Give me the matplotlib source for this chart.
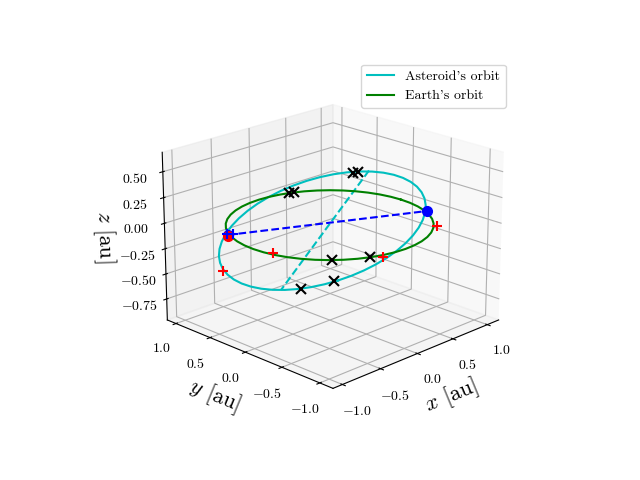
import numpy as np
import matplotlib
matplotlib.use("Agg")
import matplotlib.pyplot as plt

plt.rcParams['font.family'] = ['cmr10', 'DejaVu Serif']
plt.rcParams['mathtext.fontset'] = 'cm'
plt.rcParams['axes.formatter.use_mathtext'] = True
plt.rcParams['axes.unicode_minus'] = True

fig = plt.figure(figsize=(6.4, 4.8), dpi=100)
ax = fig.add_subplot(projection='3d')
ax.view_init(elev=20, azim=-135)
ax.set_xlim(-1.12, 1.17)
ax.set_ylim(-1.17, 1.13)
ax.set_zlim(-0.962, 0.686)
ax.set_xticks([-1.0, -0.5, 0.0, 0.5, 1.0])
ax.set_yticks([-1.0, -0.5, 0.0, 0.5, 1.0])
ax.set_zticks([-0.75, -0.5, -0.25, 0.0, 0.25, 0.5])
ax.set_xlabel(r'$x$ [au]', fontsize=16)
ax.set_ylabel(r'$y$ [au]', fontsize=16)
ax.set_zlabel(r'$z$ [au]', fontsize=16)
fig.canvas.draw()
M = ax.get_proj()
inv = ax.transData.inverted()

def rows(px, py):
    u, v = inv.transform((px, 480 - py))
    return [M[0] - u * M[3], M[1] - v * M[3]]

def solve(px, py, plane):
    r = rows(px, py)
    A = np.array([r[0][:3], r[1][:3], plane[:3]])
    b = np.array([-r[0][3], -r[1][3], plane[3]])
    return np.linalg.solve(A, b)

Z0 = np.array([0, 0, 1, 0.0])
n1 = solve(227.5, 235.0, Z0)
n2 = solve(427, 211, Z0)
top = solve(369, 170.5, np.array([0, 0, 1, 0.62]))
nrm = np.cross(n2 - n1, top - n1)
P = np.array([*nrm, nrm @ n1])

pts = np.array([(510,65),(570,68),(620,90),(660,125),(680,165),(678,190),(650,240),(600,290),(550,330),(500,358),
 (450,380),(400,395),(350,408),(300,418),(245,420),(190,420),(130,400),(85,370),(60,335),(58,310),(68,270),(85,240),
 (120,195),(170,160),(230,130),(270,115),(330,90),(400,72),(460,66)], float) / 3 + [200, 150]
mx = pts.mean(0); s = 100.0
X = (pts - mx) / s
D = np.c_[X[:,0]**2, X[:,0]*X[:,1], X[:,1]**2, X[:,0], X[:,1], np.ones(len(X))]
co = np.linalg.svd(D)[2][-1]
A,B,C,Dd,E,F = co
Q = np.array([[A,B/2],[B/2,C]])
c0 = np.linalg.solve(2*Q, [-Dd,-E])
val = F + 0.5*(Dd*c0[0]+E*c0[1])
w,V = np.linalg.eigh(Q)
ang = np.linspace(0, 2*np.pi, 49)
ell = c0[:,None] + V @ np.vstack([np.sqrt(-val/w[0])*np.cos(ang), np.sqrt(-val/w[1])*np.sin(ang)])
ell = ell.T*s + mx
ast = np.array([solve(a,b,P) for a,b in ell])
dash = np.array([solve(369,170.5,P), solve(281,290,P)])

ang2 = np.linspace(0, 2*np.pi, 49)
ex, ey = np.cos(ang2), np.sin(ang2)

rp_e = [(436.7,226),(272.7,252.7),(383.3,257.3)]
rp_a = [(222.7,270.7)]
bp = [(226.7,234.3),(233.3,234.3),(427,211)]
kx_e = [(331.7,260),(370,256.7)]
kx_a = [(353.3,172.7),(357.7,171.7),(289.3,192.7),(294.3,191.7),(334,280.7),(300.7,289)]
red = np.array([solve(a,b,Z0) for a,b in rp_e]+[solve(a,b,P) for a,b in rp_a])
blue = np.array([solve(a,b,Z0) for a,b in bp])
blk = np.array([solve(a,b,Z0) for a,b in kx_e]+[solve(a,b,P) for a,b in kx_a])
rd = solve(227.5,236,P)

ax.plot(*ast.T, color='c', label="Asteroid's orbit")
ax.plot(*dash.T, color='c', ls='--')
ax.plot(ex, ey, 0*ex, color='g', label="Earth's orbit")
ax.plot(*np.array([n1,n2]).T, color='b', ls='--')
ax.plot(*np.array([n1,n2]).T, 'o', color='b', ms=7)
ax.plot([rd[0]],[rd[1]],[rd[2]], 'o', color='r', ms=7)
ax.plot(*blue.T, '+', color='b', ms=7, mew=1.5)
ax.plot(*red.T, '+', color='r', ms=7, mew=1.5)
ax.plot(*blk.T, 'x', color='k', ms=7, mew=1.5)
ax.legend(loc='upper right', fontsize=10)
fig.savefig('out.png', dpi=100)
